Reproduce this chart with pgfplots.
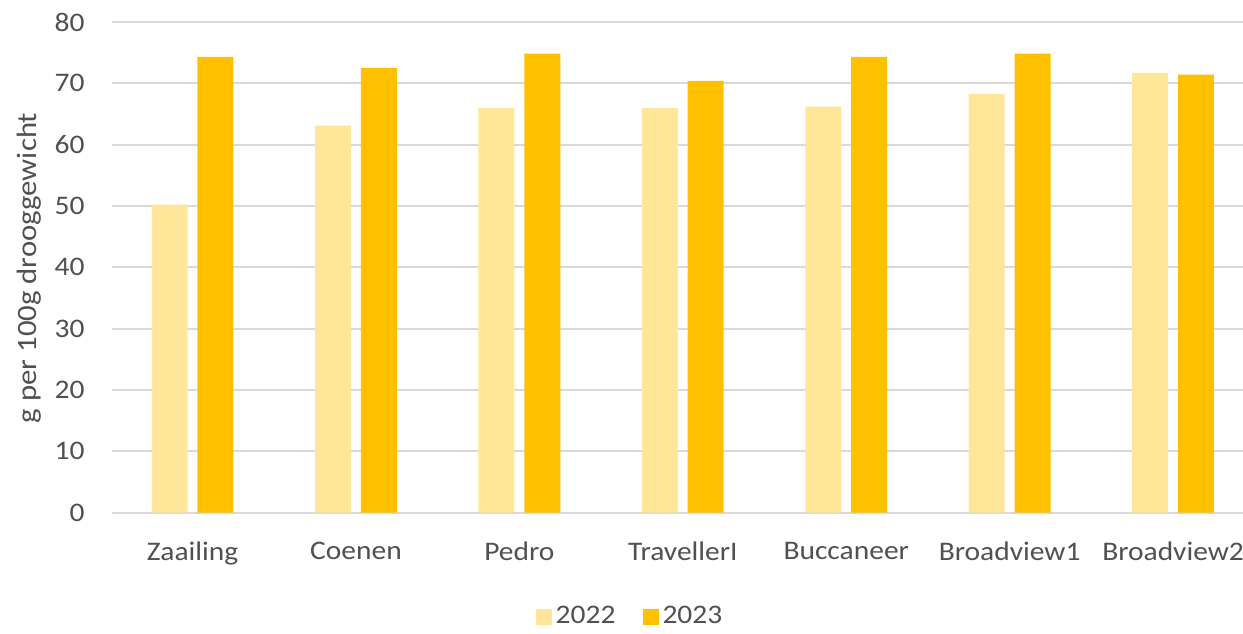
\documentclass[border=0pt]{standalone}
\usepackage{pgfplots}
\pgfplotsset{compat=1.18}
\usepackage{fontspec}
\setmainfont{Carlito}[FakeStretch=1.1]
\definecolor{c22}{HTML}{FFE699}
\definecolor{c23}{HTML}{FFC000}
\definecolor{txt}{HTML}{505050}
\definecolor{gridc}{HTML}{D9D9D9}
\begin{document}
\fontsize{13.4}{16}\selectfont
\begin{tikzpicture}
\useasboundingbox (-56pt,-60.25pt) rectangle (565.5pt,256.25pt);
\begin{axis}[
  scale only axis,
  width=565.5pt, height=245.25pt,
  anchor=south west, at={(0,0)},
  xmin=-0.493, xmax=6.428,
  ymin=0, ymax=80,
  ytick={0,10,...,80},
  xtick={0,1,2,3,4,5,6},
  xticklabels={Zaailing,Coenen,Pedro,TravellerI,Buccaneer,Broadview1,Broadview2},
  ybar=4.9pt, bar width=18pt,
  axis line style={draw=none},
  major tick length=0pt,
  ymajorgrids, grid style={gridc, line width=1pt},
  /pgf/number format/assume math mode=true,
  tick label style={text=txt},
  yticklabel style={anchor=east, inner sep=0pt, xshift=-13.5pt},
  xticklabel style={anchor=north, inner sep=0pt, yshift=-14.5pt},
  ylabel={g per 100g drooggewicht},
  ylabel style={at={(axis description cs:-0.0734,0.4985)}, anchor=center, text=txt, font=\fontsize{14}{16}\selectfont},
  legend style={at={(axis description cs:0.4589,-0.213)}, anchor=center, draw=none, fill=none,
    legend columns=2, text=txt, /tikz/every even column/.append style={column sep=11.5pt},
    inner sep=0pt},
  legend image code/.code={\fill[#1] (0pt,-4pt) rectangle (8pt,4pt);},
]
\addplot[fill=c22, draw=none] coordinates {(0,50.2) (1,63.1) (2,66.0) (3,66.0) (4,66.2) (5,68.3) (6,71.7)};
\addplot[fill=c23, draw=none] coordinates {(0,74.3) (1,72.5) (2,74.85) (3,70.4) (4,74.3) (5,74.85) (6,71.4)};
\legend{2022,2023}
\end{axis}
\end{tikzpicture}
\end{document}
